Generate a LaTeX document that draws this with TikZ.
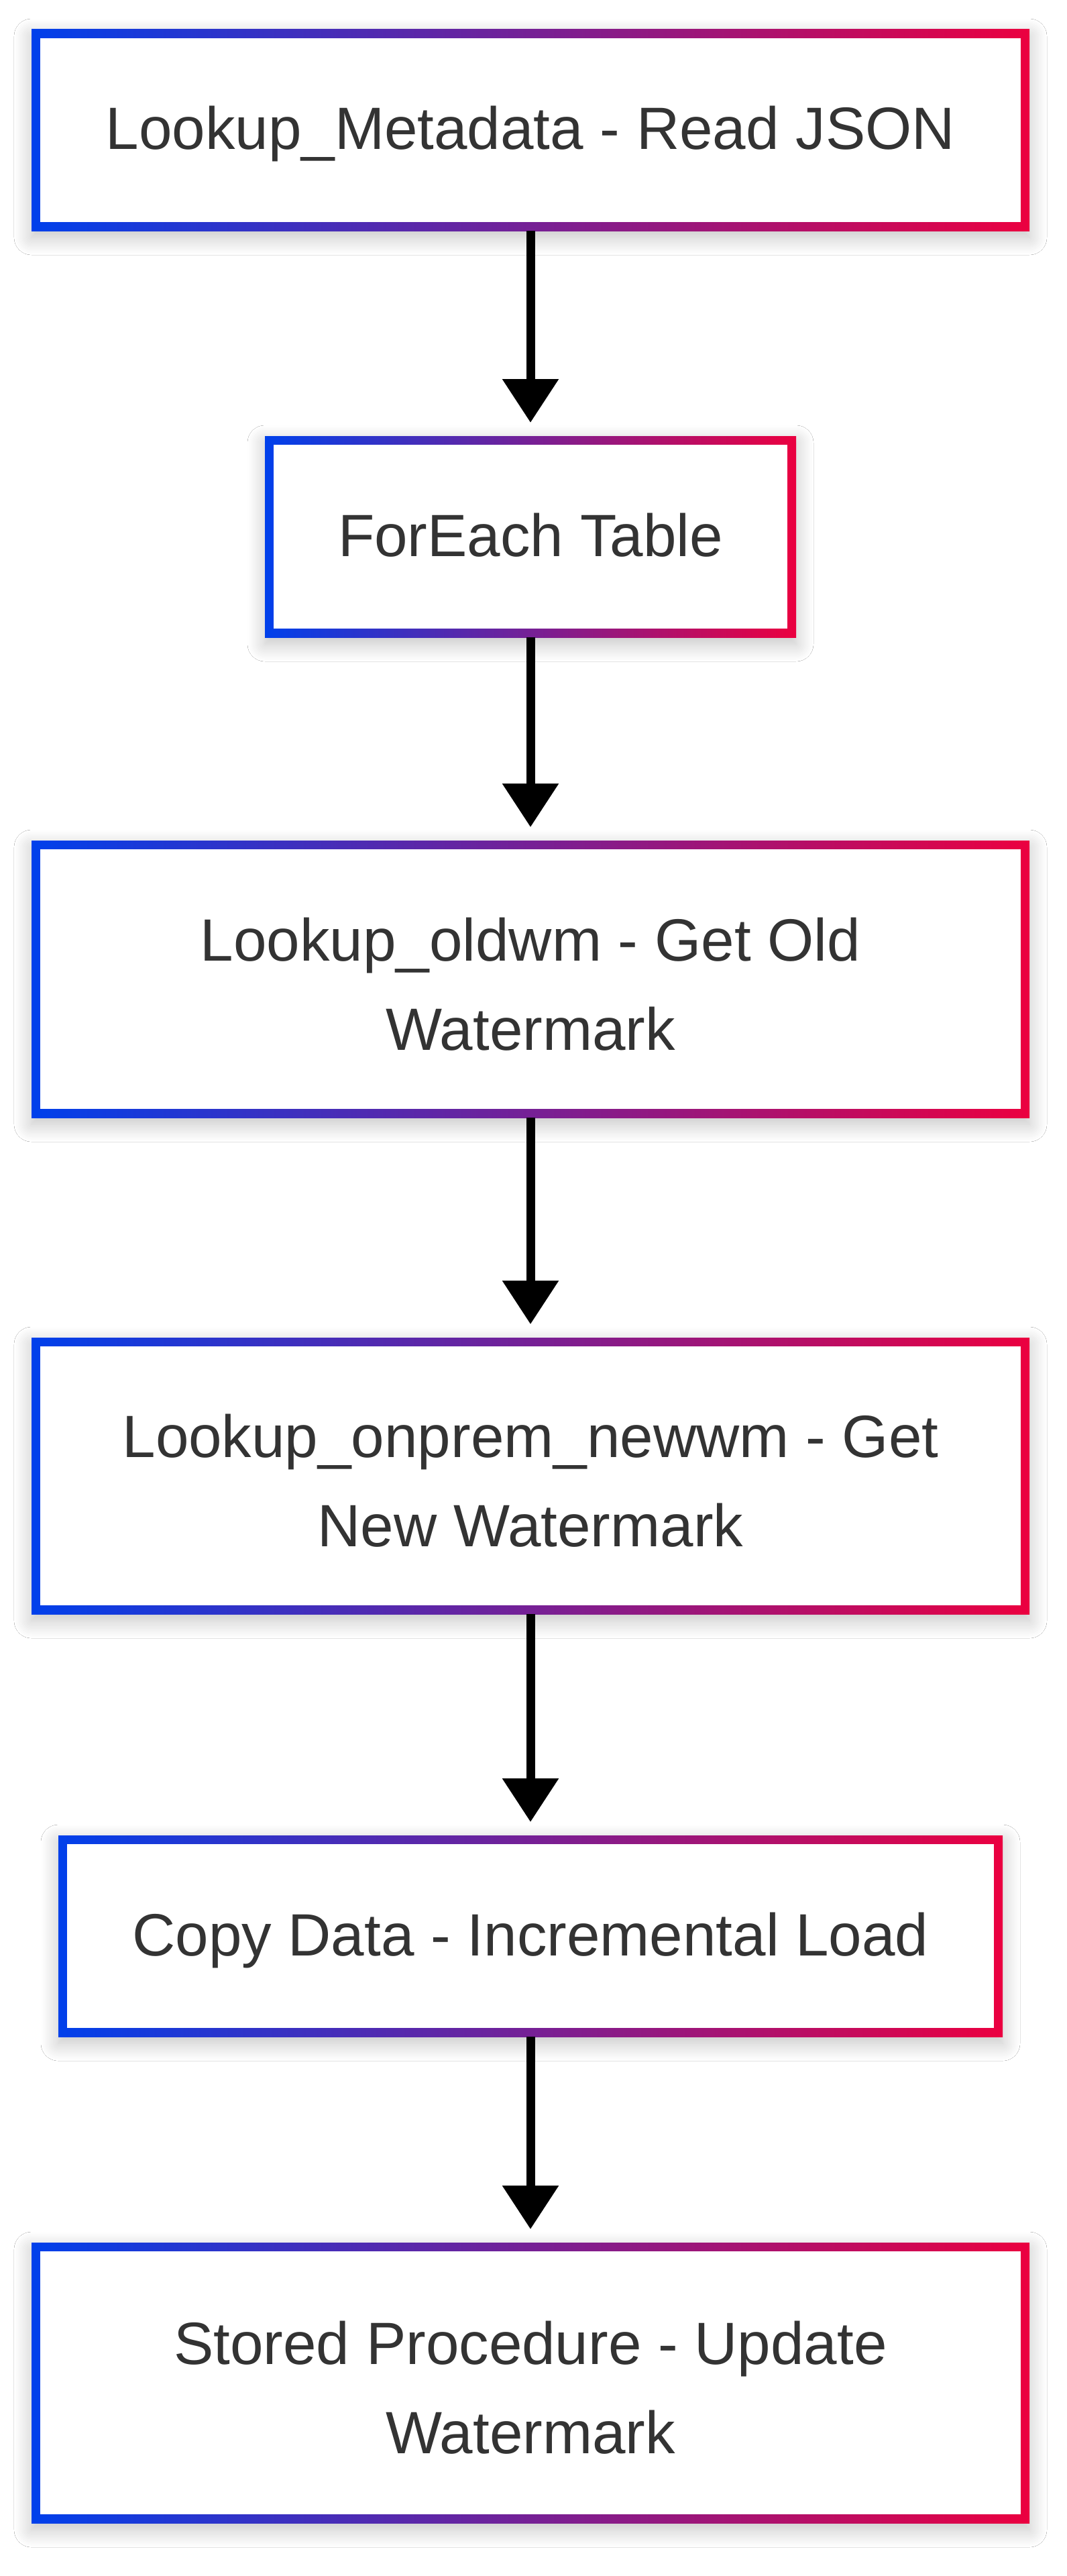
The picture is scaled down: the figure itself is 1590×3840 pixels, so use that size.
\documentclass[tikz,border=0pt]{standalone}
\usepackage{fontspec}
\setmainfont{Liberation Sans}
\usetikzlibrary{arrows.meta,shadows.blur}
\definecolor{gblue}{RGB}{0,64,235}
\definecolor{gred}{RGB}{235,0,64}
\definecolor{txt}{RGB}{51,51,51}
\tikzset{
 flowbox/.style={rectangle, draw=none, inner sep=0pt, outer sep=0pt,
   left color=gblue, right color=gred,
   blur shadow={shadow xshift=0pt, shadow yshift=-10pt, shadow blur radius=26pt, shadow blur steps=12, shadow opacity=24},
   path picture={\fill[white] ([shift={(13pt,13pt)}]path picture bounding box.south west) rectangle ([shift={(-13pt,-13pt)}]path picture bounding box.north east);},
   font=\fontsize{89}{133}\selectfont, text=txt, align=center},
 onebox/.style={flowbox, text height=65pt, text depth=7pt},
 twobox/.style={flowbox},
 flowarrow/.style={line width=13pt, -{Triangle[length=65pt,width=81pt]}, shorten >=20pt}
}
\begin{document}
\begin{tikzpicture}[x=1pt,y=-1pt]
\useasboundingbox[fill=white] (0,0) rectangle (1590,3840);
\node[onebox, minimum width=1488pt, minimum height=300pt] (n1) at (791,194) {Lookup\_Metadata - Read JSON};
\node[onebox, minimum width=792pt, minimum height=300pt] (n2) at (791,800) {ForEach Table};
\node[twobox, minimum width=1488pt, minimum height=413pt] (n3) at (791,1459.5) {\rule{0pt}{79pt}Lookup\_oldwm - Get Old\\Watermark};
\node[twobox, minimum width=1488pt, minimum height=412pt] (n4) at (791,2200) {\rule{0pt}{79pt}Lookup\_onprem\_newwm - Get\\New Watermark};
\node[onebox, minimum width=1408pt, minimum height=300pt] (n5) at (791,2886) {Copy Data - Incremental Load};
\node[twobox, minimum width=1488pt, minimum height=418pt] (n6) at (791,3552) {\rule{0pt}{79pt}Stored Procedure - Update\\Watermark};
\draw[flowarrow] (n1.south) -- (n2.north);
\draw[flowarrow] (n2.south) -- (n3.north);
\draw[flowarrow] (n3.south) -- (n4.north);
\draw[flowarrow] (n4.south) -- (n5.north);
\draw[flowarrow] (n5.south) -- (n6.north);
\end{tikzpicture}
\end{document}
